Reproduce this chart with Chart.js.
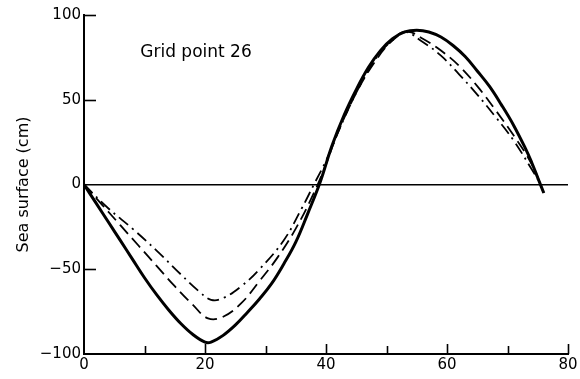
<!DOCTYPE html>
<html>
<head>
<meta charset="utf-8">
<script src="https://cdn.jsdelivr.net/npm/chart.js@4.4.1/dist/chart.umd.min.js"></script>
<style>
  html, body { margin: 0; padding: 0; background: #fff; }
  canvas { display: block; }
</style>
</head>
<body>
<canvas id="myChart" width="580" height="379"></canvas>
<script>
// axis ticks
const xTicks = [0, 20, 40, 60, 80];
const xMinorTicks = [10, 30, 50, 70];
const yTicks = [-100, -50, 0, 50, 100];

// solid curve
const solidX = [0, 2, 4, 6, 8, 10, 12, 14, 16, 18, 20, 21, 23, 25, 27, 29, 31, 33, 35, 37, 39, 41, 43, 45, 47, 49, 51, 53, 55, 57, 59, 61, 63, 65, 67, 69, 71, 73, 74, 75, 76];
const solidY = [0, -11, -22, -33, -44, -55, -65, -74, -82, -88.5, -93, -93, -89, -83, -75.5, -67.5, -58.5, -47, -34, -17, 1, 23, 41, 56, 69, 79, 86, 90, 91, 90, 87, 82, 75.5, 67, 58, 47, 35, 21, 13, 4, -5];

// dashed curve
const dashX = [0, 3, 6, 9, 12, 15, 18, 20.5, 23, 26, 29, 32, 35, 38, 40, 42, 45, 48, 51, 53.5, 56, 59, 62, 65, 68, 71, 74, 76];
const dashY = [0, -12, -24, -36, -48, -60, -71, -79, -78, -70, -57, -43, -26, -5, 12, 31, 54, 72, 85, 90, 86, 79, 70, 58, 44, 29, 12, -5];

// dash-dot curve
const dotX = [0, 4, 8, 12, 16, 19, 21, 23, 26, 29, 33, 36, 38, 40, 43, 46, 49, 51, 53, 56, 59, 62, 65, 68, 71, 74, 75.5];
const dotY = [0, -14, -26, -39, -53, -63, -68, -67, -60, -50, -33, -14, 0, 14, 39, 61, 78, 85, 90, 84, 76, 65, 53, 40, 26, 9, 0];

const toPoints = (xs, ys) => xs.map((x, i) => ({ x: x, y: ys[i] }));

const FONT = "'DejaVu Sans', sans-serif";

// inward tick marks and the label inside the plot
const extras = {
    id: "extras",
    afterDatasetsDraw(chart) {
        const ctx = chart.ctx;
        const xs = chart.scales.x;
        const ys = chart.scales.y;
        const bottom = chart.chartArea.bottom;
        const left = chart.chartArea.left;
        ctx.save();
        ctx.strokeStyle = "#000";
        ctx.lineWidth = 1.6;
        xTicks.concat(xMinorTicks).forEach((v) => {
            if (v === 0) return;
            const px = Math.round(xs.getPixelForValue(v)) + 0.5;
            const len = xTicks.includes(v) ? 10 : 8;
            ctx.beginPath();
            ctx.moveTo(px, bottom);
            ctx.lineTo(px, bottom - len);
            ctx.stroke();
        });
        yTicks.forEach((v) => {
            if (v === 0 || v === -100) return;
            const py = Math.round(ys.getPixelForValue(v)) + 0.5;
            ctx.beginPath();
            ctx.moveTo(left, py);
            ctx.lineTo(left + 12, py);
            ctx.stroke();
        });
        ctx.fillStyle = "#000";
        ctx.font = "17px " + FONT;
        ctx.textBaseline = "middle";
        ctx.textAlign = "left";
        ctx.fillText("Grid point 26", xs.getPixelForValue(9.3), ys.getPixelForValue(78));
        ctx.restore();
    },
};

const ctx = document.getElementById("myChart").getContext("2d");

new Chart(ctx, {
    type: "scatter",
    data: {
        datasets: [
            {
                label: "solid",
                data: toPoints(solidX, solidY),
                showLine: true,
                borderColor: "#000",
                borderWidth: 3,
                pointRadius: 0,
                tension: 0.4,
            },
            {
                label: "dashed",
                data: toPoints(dashX, dashY),
                showLine: true,
                borderColor: "#000",
                borderWidth: 1.8,
                borderDash: [12, 6],
                pointRadius: 0,
                tension: 0.4,
            },
            {
                label: "dash-dot",
                data: toPoints(dotX, dotY),
                showLine: true,
                borderColor: "#000",
                borderWidth: 1.8,
                borderDash: [12, 5, 2, 5],
                pointRadius: 0,
                tension: 0.4,
            },
        ],
    },
    options: {
        responsive: false,
        animation: false,
        devicePixelRatio: 1,
        layout: {
            padding: { top: 15, right: 12, left: 0, bottom: 0 },
        },
        plugins: {
            legend: { display: false },
            tooltip: { enabled: false },
        },
        scales: {
            x: {
                type: "linear",
                min: 0,
                max: 80,
                afterBuildTicks: (scale) => {
                    scale.ticks = xTicks.map((v) => ({ value: v }));
                },
                afterFit: (scale) => {
                    scale.height = 25;
                },
                grid: { display: true, color: "rgba(0,0,0,0)", drawTicks: false },
                border: { display: true, color: "#000", width: 2 },
                ticks: {
                    color: "#000",
                    font: { family: FONT, size: 15 },
                    padding: 2,
                    maxRotation: 0,
                },
            },
            y: {
                type: "linear",
                min: -100,
                max: 100,
                afterBuildTicks: (scale) => {
                    scale.ticks = yTicks.map((v) => ({ value: v }));
                },
                afterFit: (scale) => {
                    scale.width = 84;
                },
                grid: {
                    display: true,
                    drawTicks: false,
                    lineWidth: 1.5,
                    color: (c) => (c.tick && c.tick.value === 0 ? "#000" : "rgba(0,0,0,0)"),
                },
                border: { display: true, color: "#000", width: 2 },
                ticks: {
                    color: "#000",
                    font: { family: FONT, size: 15 },
                    padding: 3,
                    callback: (v) => (v < 0 ? "\u2212" + Math.abs(v) : String(v)),
                },
                title: {
                    display: true,
                    text: "Sea surface (cm)",
                    color: "#000",
                    font: { family: FONT, size: 16 },
                    padding: { top: 14, bottom: 0 },
                },
            },
        },
    },
    plugins: [extras],
});
</script>
</body>
</html>
